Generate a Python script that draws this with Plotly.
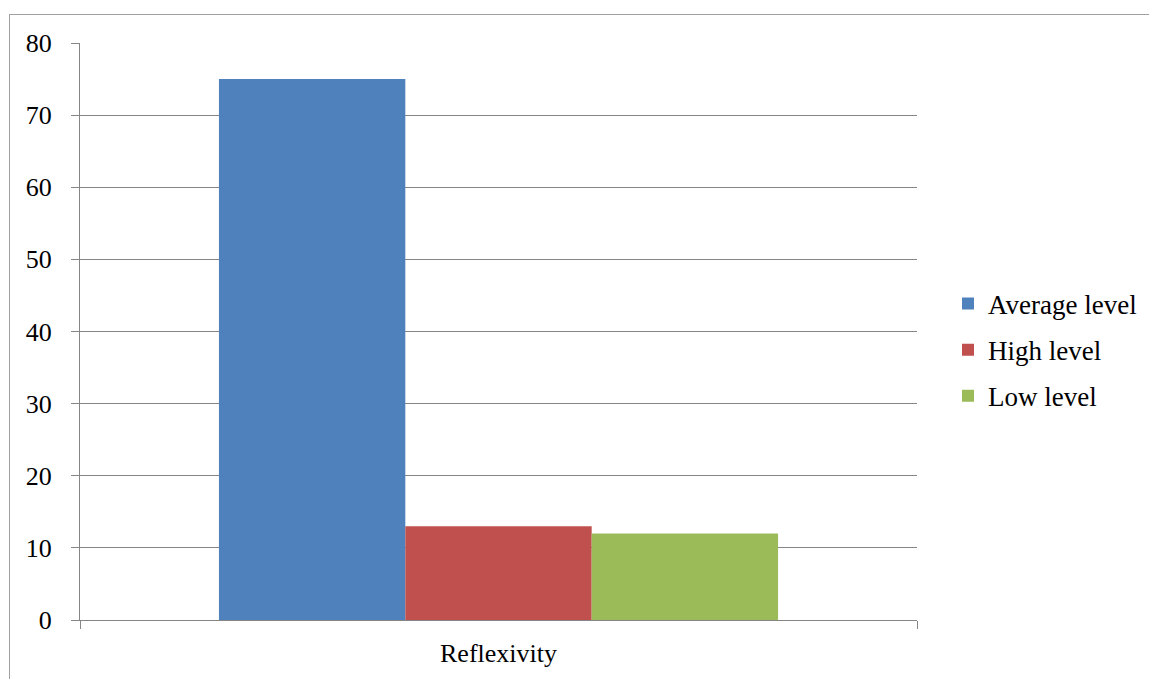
import plotly.graph_objects as go

categories = ["Reflexivity"]
series_names = ["Average level", "High level", "Low level"]
average_level = [75]
high_level = [13]
low_level = [12]
colors = ["#4F81BD", "#C0504D", "#9BBB59"]
y_ticks = [0, 10, 20, 30, 40, 50, 60, 70, 80]

W, H = 1149, 679
L, R, T, B = 80, 917, 43, 620

fig = go.Figure()
for name, vals, col in zip(series_names, [average_level, high_level, low_level], colors):
    fig.add_trace(go.Bar(x=categories, y=vals, name=name, marker_color=col,
                         marker_line_width=0, legendgroup=name))

FONT = "Liberation Serif"
GRAY = "#868686"

def px2x(p):
    return (p - L) / (R - L)

def py2y(p):
    return (B - p) / (B - T)

fig.update_layout(
    width=W, height=H,
    margin=dict(l=L, r=W - R, t=T, b=H - B, autoexpand=False),
    paper_bgcolor="white", plot_bgcolor="white",
    font=dict(family=FONT, size=26, color="black"),
    barmode="group", bargap=0.332, bargroupgap=0,
    showlegend=True,
    legend=dict(x=px2x(948), xanchor="left", y=py2y(350), yanchor="middle",
                traceorder="grouped", tracegroupgap=8,
                font=dict(family=FONT, size=27, color="black"),
                bgcolor="rgba(0,0,0,0)", itemclick=False),
    xaxis=dict(type="category", tickson="boundaries", ticks="outside", ticklen=8,
               tickcolor=GRAY, tickwidth=1, showgrid=False, showline=True,
               linecolor=GRAY, linewidth=1, ticklabelstandoff=10, automargin=False,
               tickfont=dict(family=FONT, size=26, color="black")),
    yaxis=dict(range=[0, 80], tickvals=y_ticks, ticks="outside", ticklen=8,
               tickcolor=GRAY, tickwidth=1, showgrid=True, gridcolor=GRAY,
               gridwidth=1, showline=True, linecolor=GRAY, linewidth=1,
               zeroline=False, ticklabelstandoff=14, automargin=False,
               tickfont=dict(family=FONT, size=26, color="black")),
    shapes=[
        dict(type="line", xref="paper", yref="paper", x0=px2x(9), x1=px2x(1149),
             y0=py2y(14.5), y1=py2y(14.5), line=dict(color="#A0A0A0", width=1)),
        dict(type="line", xref="paper", yref="paper", x0=px2x(9.5), x1=px2x(9.5),
             y0=py2y(14), y1=py2y(679), line=dict(color="#A0A0A0", width=1)),
    ],
)

fig.write_html("out.html")
